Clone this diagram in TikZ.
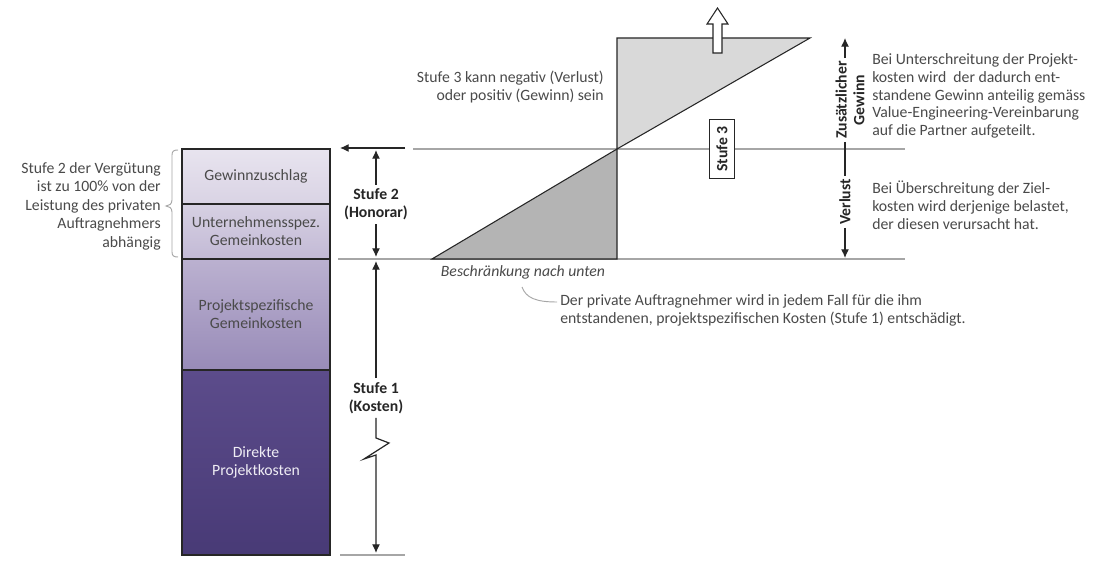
\documentclass[tikz,border=0pt]{standalone}
\usepackage{fontspec}
\setmainfont{Carlito}
\usetikzlibrary{arrows.meta,calc}
\definecolor{dark}{HTML}{262626}
\definecolor{txt}{HTML}{4A4A4A}
\definecolor{lgray}{HTML}{A6A6A6}
\definecolor{tridark}{HTML}{B4B4B4}
\definecolor{trilight}{HTML}{D9D9D9}
\definecolor{cat}{HTML}{E8E4EF}\definecolor{cab}{HTML}{D9D3E4}
\definecolor{cbt}{HTML}{D6D0E2}\definecolor{cbb}{HTML}{C3BAD6}
\definecolor{cct}{HTML}{BBB1D0}\definecolor{ccb}{HTML}{988BB8}
\definecolor{cdt}{HTML}{5C4C8B}\definecolor{cdb}{HTML}{483A76}
\begin{document}
\begin{tikzpicture}[x=0.75pt,y=-0.75pt,
  every node/.style={font=\fontsize{11.8}{13.4}\selectfont, text=txt, inner sep=0pt, align=center},
  blk/.style={draw=dark, line width=1.1pt, minimum width=111pt, inner sep=0pt},
  glin/.style={draw=lgray, line width=0.8pt},
  dline/.style={draw=dark, line width=0.9pt},
  arr/.style={dline, -{Latex[length=6.5pt,width=6pt]}},
  lbl/.style={font=\fontsize{11.8}{13.4}\selectfont\bfseries, text=dark, inner sep=3pt},
]
\useasboundingbox (0,0) rectangle (1102,566);
\fill[white] (0,0) rectangle (1102,566);

% column
\node[blk, minimum height=41.25pt, top color=cat, bottom color=cab] (gz) at (256,176.5) {Gewinnzuschlag};
\node[blk, minimum height=41.25pt, top color=cbt, bottom color=cbb] (ug) at (256,231.5) {Unternehmensspez.\\Gemeinkosten};
\node[blk, minimum height=83.25pt, top color=cct, bottom color=ccb] (pg) at (256,314.5) {Projektspezifische\\Gemeinkosten};
\node[blk, minimum height=138.75pt, top color=cdt, bottom color=cdb, text=white!90!cdt] (dp) at (256,462.5) {Direkte\\Projektkosten};

% left note with brace
\node[align=right, anchor=east, font=\fontsize{11.8}{13.9}\selectfont] (s2note) at (161,206) {Stufe 2 der Vergütung\\ist zu 100\% von der\\Leistung des privaten\\Auftragnehmers\\abhängig};
\draw[lgray, line width=0.7pt] (178,150) .. controls (174,150) and (172,151) .. (172,155) -- (172,200)
  .. controls (172,204) and (169,206) .. (166,206) .. controls (169,206) and (172,208) .. (172,212)
  -- (172,252) .. controls (172,256) and (174,257) .. (178,257);

% horizontal guide lines
\draw[glin] (338,259) -- (905,259);
\draw[glin] (413,149) -- (905,149);
\draw[glin] (340,555) -- (405,555);
\coordinate (lt) at (340,148);
\coordinate (ls) at (405,148);
\draw[arr] (ls) -- (lt);

% triangles
\filldraw[fill=tridark, draw=dark, line width=0.8pt] (432,259) -- (617,259) -- (617,149) -- cycle;
\filldraw[fill=trilight, draw=dark, line width=0.8pt] (617,149) -- (617,38) -- (810,38) -- cycle;
\filldraw[fill=white, draw=dark, line width=0.8pt] (713,53) -- (713,24) -- (707,24) -- (717.5,8) -- (728,24) -- (722,24) -- (722,53) -- cycle;

% Stufe 2
\node[lbl] (s2) at (376,204.5) {Stufe 2\\(Honorar)};
\coordinate (s2top) at (376,150);
\coordinate (s2bot) at (376,257);
\draw[arr] (s2.north) -- (s2top);
\draw[arr] (s2.south) -- (s2bot);

% Stufe 1
\node[lbl] (s1) at (376,398) {Stufe 1\\(Kosten)};
\coordinate (s1top) at (376,261);
\coordinate (s1bot) at (376,553);
\draw[arr] (s1.north) -- (s1top);
\draw[arr] (s1.south) -- (376,438) -- (389,443) -- (364,459) -- (376,455) -- (s1bot);

% Stufe 3
\node[align=right, anchor=east] (s3note) at (604,87) {Stufe 3 kann negativ (Verlust)\\oder positiv (Gewinn) sein};
\node[lbl, draw=dark, line width=0.6pt, fill=white, rotate=90, inner xsep=5pt, inner ysep=5.5pt] (s3) at (722,149) {Stufe 3};

% lower bound
\node[font=\fontsize{11.8}{13.4}\selectfont\itshape] (besch) at (523,272) {Beschränkung nach unten};
\node[anchor=west, align=left] (dpt) at (560,310) {Der private Auftragnehmer wird in jedem Fall für die ihm\\entstandenen, projektspezifischen Kosten (Stufe 1) entschädigt.};
\coordinate (cs) at (522,287);
\coordinate (ce) at (557,302);
\draw[lgray, line width=0.7pt] (cs) .. controls (526,298) and (536,302) .. (ce);

% right scale
\node[lbl, rotate=90, inner sep=2pt] (zg) at (850,100) {Zusätzlicher\\Gewinn};
\node[lbl, rotate=90, inner sep=2pt] (verl) at (845,202) {Verlust};
\coordinate (gtop) at (845,38);
\coordinate (vbot) at (845,258);
\draw[arr] (zg.east -| gtop) -- (gtop);
\draw[dline] (zg.west -| gtop) -- (verl.east);
\draw[arr] (verl.west) -- (vbot);

\node[anchor=west, align=left] (rt1) at (872,96) {Bei Unterschreitung der Projekt-\\kosten wird\ \ der dadurch ent-\\standene Gewinn anteilig gemäss\\Value-Engineering-Vereinbarung\\auf die Partner aufgeteilt.};
\node[anchor=west, align=left] (rt2) at (872,205) {Bei Überschreitung der Ziel-\\kosten wird derjenige belastet,\\der diesen verursacht hat.};
\end{tikzpicture}
\end{document}
